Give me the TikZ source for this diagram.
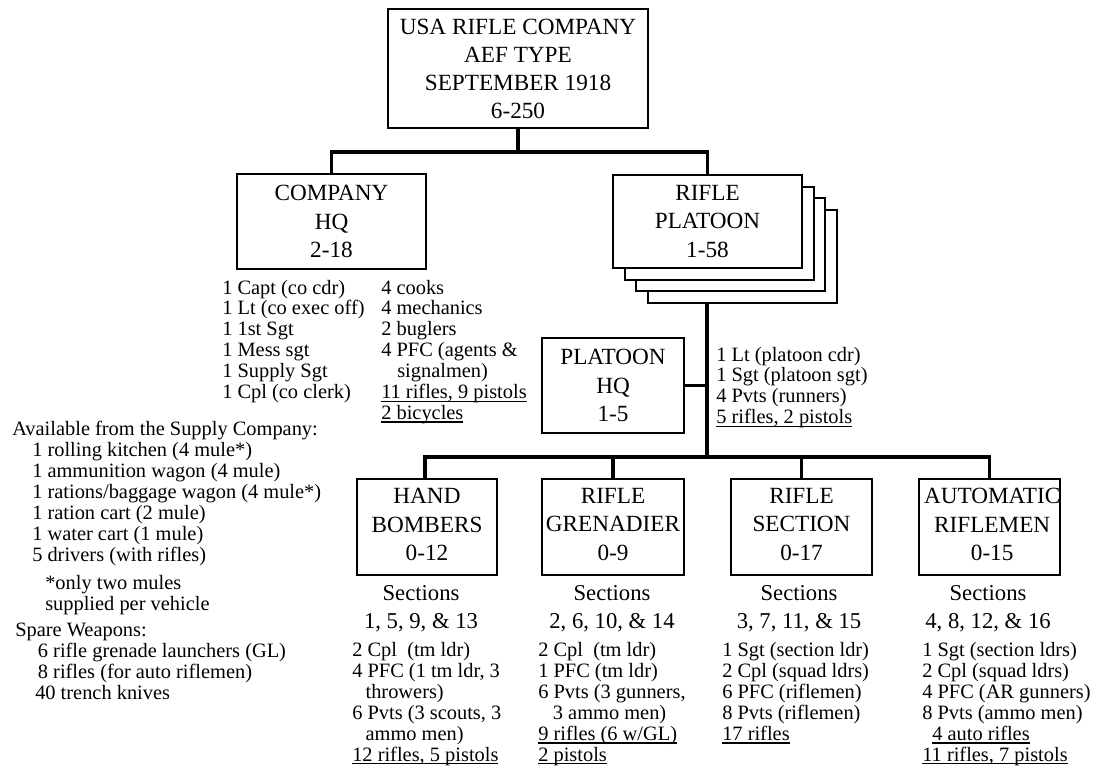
\documentclass[tikz,border=0pt]{standalone}
\usepackage{fontspec}
\IfFontExistsTF{LiberationSerif-Regular.ttf}
  {\setmainfont{LiberationSerif-Regular.ttf}}
  {\setmainfont{Liberation Serif}}
\usetikzlibrary{backgrounds}
\newcommand\myul[1]{\setbox0\hbox{#1}\rlap{\rule[-2.2pt]{\wd0}{0.8pt}}\box0}
\newcommand\lowpad{\rule[-4pt]{0pt}{4pt}}
\begin{document}
\begin{tikzpicture}[x=0.75pt,y=-0.75pt,
  box/.style={draw, line width=1.5pt, fill=white, align=center, inner sep=0pt,
    font=\fontsize{17.4}{21.4}\selectfont},
  stackbox/.style={draw, line width=1.5pt, fill=white},
  conn/.style={line width=2.6pt, line join=miter},
  lst/.style={anchor=base west, align=left, inner sep=0pt,
    font=\fontsize{15.3}{15.7}\selectfont},
  sec/.style={anchor=base, align=center, inner sep=0pt,
    font=\fontsize{17}{21}\selectfont}]
\useasboundingbox (0,0) rectangle (1094,765);

% top box
\node[box, minimum width=195pt, minimum height=89.25pt,
  font=\fontsize{17.4}{21}\selectfont] (top) at (518,68.5)
  {USA RIFLE COMPANY\\AEF TYPE\\SEPTEMBER 1918\\6-250};

% company HQ
\node[box, minimum width=141.75pt, minimum height=71.25pt] (chq) at (331.5,221.5)
  {COMPANY\\HQ\\2-18};

% rifle platoon stack
\begin{scope}[on background layer]
  \foreach \d in {34.5,23,11.5}
    \draw[stackbox] (613+\d,175+\d) rectangle (802+\d,268+\d);
\end{scope}
\node[box, minimum width=141.75pt, minimum height=69.75pt] (rp) at (707.5,221.5)
  {RIFLE\\PLATOON\\1-58};

% platoon HQ
\node[box, minimum width=106.5pt, minimum height=71.25pt] (phq) at (613,385.5)
  {PLATOON\\HQ\\1-5};

% sections boxes
\node[box, minimum width=105pt, minimum height=72pt] (hb) at (427,527) {HAND\\BOMBERS\\0-12\lowpad};
\node[box, minimum width=106.5pt, minimum height=72pt] (rg) at (613,527) {RIFLE\\GRENADIER\\0-9\lowpad};
\node[box, minimum width=105.75pt, minimum height=72pt] (rs) at (801.5,527) {RIFLE\\SECTION\\0-17\lowpad};
\node[box, minimum width=105.75pt, minimum height=72pt] (ar) at (989.5,527)
  {\hspace*{4pt}AUTOMATIC\\\hspace*{4pt}RIFLEMEN\\\hspace*{4pt}0-15\lowpad};

% connectors
\coordinate (b1) at (518,152);
\draw[conn] (top.south) -- (b1);
\draw[conn] (chq.north) |- (b1) -| (rp.north);
\coordinate (stk) at (707,302);
\coordinate (b2) at (707,457);
\draw[conn] (stk) -- (b2);
\draw[conn] (phq.east) -- (phq.east -| stk);
\draw[conn] ([xshift=-1.5pt]hb.north) |- (b2) -| (ar.north);
\draw[conn] (rg.north) -- (rg.north |- b2);
\draw[conn] (rs.north) -- (rs.north |- b2);

% company HQ lists (anchor = baseline of last line)
\node[lst] (chql) at (222,398.7)
  {1 Capt (co cdr)\\1 Lt (co exec off)\\1 1st Sgt\\1 Mess sgt\\1 Supply Sgt\\1 Cpl (co clerk)};
\node[lst] (chqr) at (381,419.6)
  {4 cooks\\4 mechanics\\2 buglers\\4 PFC (agents \&\\\hspace*{12pt}signalmen)\\\myul{11 rifles, 9 pistols}\\\myul{2 bicycles}};

% platoon HQ list
\node[lst] (phql) at (716,423.8)
  {1 Lt (platoon cdr)\\1 Sgt (platoon sgt)\\4 Pvts (runners)\\\myul{5 rifles, 2 pistols}};

% supply
\node[lst] (sup) at (12,561.5)
  {Available from the Supply Company:\\
   \hspace*{15pt}1 rolling kitchen (4 mule*)\\
   \hspace*{15pt}1 ammunition wagon (4 mule)\\
   \hspace*{15pt}1 rations/baggage wagon (4 mule*)\\
   \hspace*{15pt}1 ration cart (2 mule)\\
   \hspace*{15pt}1 water cart (1 mule)\\
   \hspace*{15pt}5 drivers (with rifles)};
\node[lst] (note) at (45,610) {*only two mules\\supplied per vehicle};
\node[lst] (spare) at (15,699)
  {Spare Weapons:\\
   \hspace*{17pt}6 rifle grenade launchers (GL)\\
   \hspace*{17pt}8 rifles (for auto riflemen)\\
   \hspace*{15pt}40 trench knives};

% section labels
\node[sec] (hbs) at (421,628) {Sections\\1, 5, 9, \& 13};
\node[sec] (rgs) at (612,628) {Sections\\2, 6, 10, \& 14};
\node[sec] (rss) at (799,628) {Sections\\3, 7, 11, \& 15};
\node[sec] (ars) at (988,628) {Sections\\4, 8, 12, \& 16};

% section lists
\node[lst] (hbl) at (352,761.5)
  {2 Cpl\ \ (tm ldr)\\4 PFC (1 tm ldr, 3\\\hspace*{10pt}throwers)\\6 Pvts (3 scouts, 3\\\hspace*{10pt}ammo men)\\\myul{12 rifles, 5 pistols}};
\node[lst] (rgl) at (538,761.5)
  {2 Cpl\ \ (tm ldr)\\1 PFC (tm ldr)\\6 Pvts (3 gunners,\\\hspace*{11pt}3 ammo men)\\\myul{9 rifles (6 w/GL)}\\\myul{2 pistols}};
\node[lst] (rsl) at (722,740.6)
  {1 Sgt (section ldr)\\2 Cpl (squad ldrs)\\6 PFC (riflemen)\\8 Pvts (riflemen)\\\myul{17 rifles}};
\node[lst] (arl) at (922,761.5)
  {1 Sgt (section ldrs)\\2 Cpl (squad ldrs)\\4 PFC (AR gunners)\\8 Pvts (ammo men)\\\hspace*{7.5pt}\myul{4 auto rifles}\\\myul{11 rifles, 7 pistols}};
\end{tikzpicture}
\end{document}
